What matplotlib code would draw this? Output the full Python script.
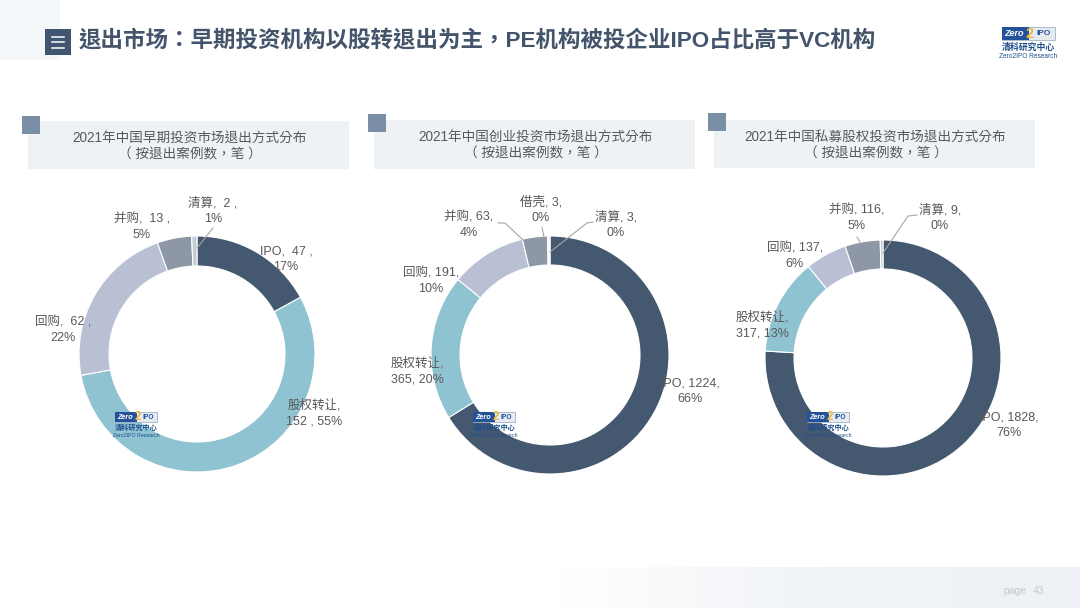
import numpy as np
import matplotlib
matplotlib.use("Agg")
import matplotlib.pyplot as plt
from matplotlib.patches import Rectangle

# latin from Liberation, CJK from Noto; TC has the centred fullwidth punctuation
plt.rcParams['font.family'] = ['Liberation Sans', 'Noto Sans CJK SC']
TC = ['Liberation Sans', 'Noto Sans CJK TC']

W, H = 1080, 608

title = "退出市场：早期投资机构以股转退出为主，PE机构被投企业IPO占比高于VC机构"
chart_titles = ["2021年中国早期投资市场退出方式分布", "2021年中国创业投资市场退出方式分布", "2021年中国私募股权投资市场退出方式分布"]
sub_title = "（ 按退出案例数，笔 ）"

names1 = ["IPO", "股权转让", "回购", "并购", "清算"]
values1 = [47, 152, 62, 13, 2]
labels1 = ["IPO,  47 ,\n17%", "股权转让,\n152 , 55%", "回购,  62 ,\n22%", "并购,  13 ,\n5%", "清算,  2 ,\n1%"]

names2 = ["IPO", "股权转让", "回购", "并购", "借壳", "清算"]
values2 = [1224, 365, 191, 63, 3, 3]
labels2 = ["IPO, 1224,\n66%", "股权转让,\n365, 20%", "回购, 191,\n10%", "并购, 63,\n4%", "借壳, 3,\n0%", "清算, 3,\n0%"]

names3 = ["IPO", "股权转让", "回购", "并购", "清算"]
values3 = [1828, 317, 137, 116, 9]
labels3 = ["IPO, 1828,\n76%", "股权转让,\n317, 13%", "回购, 137,\n6%", "并购, 116,\n5%", "清算, 9,\n0%"]

colors = {"IPO": "#44586f", "股权转让": "#8fc3d2", "回购": "#b9c0d3", "并购": "#8e97a6", "借壳": "#a5adb9", "清算": "#c3cbd4"}

fig = plt.figure(figsize=(W / 100, H / 100), dpi=100, facecolor='white')

# background layer in pixel coordinates
bg = fig.add_axes([0, 0, 1, 1], zorder=0)
bg.axis('off')
bg.add_patch(Rectangle((0, 0), 60, 60, color='#f4f7fa', lw=0))
band = np.linspace(0, 1, 256).reshape(1, -1)
cmap = matplotlib.colors.LinearSegmentedColormap.from_list('band', ['#ffffff', '#f0f3f7', '#eef1f6'])
bg.imshow(band, extent=[560, W, H, 567], aspect='auto', cmap=cmap, zorder=1)
bg.set_xlim(0, W)
bg.set_ylim(H, 0)


def donut(cx, cy, r, inner, names, values):
    a = fig.add_axes([(cx - r) / W, 1 - (cy + r) / H, 2 * r / W, 2 * r / H], zorder=1)
    a.pie(values, colors=[colors[n] for n in names], startangle=90, counterclock=False,
          radius=1, wedgeprops=dict(width=1 - inner / r, edgecolor='white', linewidth=0.8))
    a.set_xlim(-1, 1)
    a.set_ylim(-1, 1)
    a.axis('off')


donut(197, 354, 118, 88, names1, values1)
donut(550, 355, 119, 90, names2, values2)
donut(883, 358, 118, 89, names3, values3)

# overlay with all the text
ov = fig.add_axes([0, 0, 1, 1], zorder=2)
ov.set_xlim(0, W)
ov.set_ylim(H, 0)
ov.axis('off')
ov.patch.set_alpha(0)

# title
ov.add_patch(Rectangle((45, 29), 26, 26, color='#3f5571', lw=0))
for y in [36.5, 42, 47.5]:
    ov.plot([52, 64], [y, y], color='white', lw=1.1)
ov.text(79, 41, title, fontsize=16.2, fontweight='bold', color='#44546a', va='center', ha='left', family=TC)

# header boxes
boxes = [(28, 121, 321, 48, 22, 116), (374, 120, 321, 49, 368, 114), (714, 120, 321, 48, 708, 113)]
for (x, y, w, h, sx, sy), t in zip(boxes, chart_titles):
    ov.add_patch(Rectangle((x, y), w, h, color='#eff2f5', lw=0))
    ov.add_patch(Rectangle((sx, sy), 18, 18, color='#7a8ea6', lw=0))
    ov.text(x + w / 2 + 1, y + 17, t, fontsize=9.8, color='#595959', ha='center', va='center', family=TC)
    ov.text(x + w / 2 + 1, y + 33.5, sub_title, fontsize=9.8, color='#595959', ha='center', va='center', family=TC)

# donut labels
pos1 = [(286, 259), (314, 413), (63, 330), (142, 227), (213, 211)]
pos2 = [(690, 391), (417, 371), (431, 281), (469, 225), (541, 210), (616, 225)]
pos3 = [(1009, 425), (762, 325), (795, 256), (857, 218), (940, 218)]
for labs, pos in [(labels1, pos1), (labels2, pos2), (labels3, pos3)]:
    for s, (x, y) in zip(labs, pos):
        ov.text(x, y, s, fontsize=9, color='#595959', ha='center', va='center', linespacing=1.4)

# leader lines
leaders = [([197, 213], [248, 228]),
           ([498, 505, 523], [223, 223, 240]), ([542, 544], [227, 237]), ([593, 587, 550], [222, 223, 252]),
           ([917, 908, 883], [215, 216, 253]), ([857, 860], [237, 242])]
for lx, ly in leaders:
    ov.plot(lx, ly, color='#a6a6a6', lw=0.8)


def logo(x, y, s=1.0):
    ov.add_patch(Rectangle((x, y), 53 * s, 13 * s, facecolor='#e6ebf2', edgecolor='#8fa3bd', lw=0.5))
    ov.add_patch(Rectangle((x, y), 27 * s, 13 * s, color='#23529b', lw=0))
    ov.text(x + 12 * s, y + 6.5 * s, "Zero", color='white', fontsize=6.5 * s, fontweight='bold', style='italic', ha='center', va='center')
    ov.text(x + 28 * s, y + 6.5 * s, "2", color='#e9b93c', fontsize=10.5 * s, fontweight='bold', ha='center', va='center')
    ov.text(x + 42 * s, y + 6.5 * s, "IPO", color='#23529b', fontsize=6 * s, fontweight='bold', ha='center', va='center')
    ov.text(x + 26.5 * s, y + 20.5 * s, "清科研究中心", color='#1f4e8c', fontsize=6.4 * s, fontweight='bold', ha='center', va='center')
    ov.text(x + 26.5 * s, y + 29 * s, "Zero2IPO Research", color='#1f4e8c', fontsize=4.7 * s, ha='center', va='center')


logo(1002, 27)
logo(115, 412, 0.8)
logo(473, 412, 0.8)
logo(807, 412, 0.8)

ov.text(1003, 591, "page", fontsize=7.5, color='#c4c8cc', ha='left', va='center')
ov.text(1033, 591, "43", fontsize=7.5, color='#c4c8cc', ha='left', va='center')

fig.savefig('out.png', dpi=100, facecolor='white')
